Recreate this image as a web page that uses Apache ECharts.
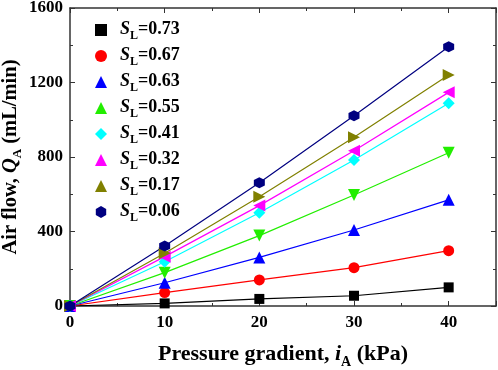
<!DOCTYPE html>
<html>
<head>
<meta charset="utf-8">
<script src="https://cdn.jsdelivr.net/npm/echarts@6/dist/echarts.min.js"></script>
<style>
  html, body { margin: 0; padding: 0; background: #fff; }
  #chart { width: 498px; height: 370px; }
</style>
</head>
<body>
<div id="chart"></div>
<script>
// pressure gradient (kPa)
const pressure = [0, 10, 20, 30, 40];
const saturation = ["0.73", "0.67", "0.63", "0.55", "0.41", "0.32", "0.17", "0.06"];
// air flow (mL/min), one row per saturation
const flowSL073 = [0, 14, 38, 55, 100];
const flowSL067 = [0, 72, 140, 206, 297];
const flowSL063 = [0, 125, 261, 408, 570];
const flowSL055 = [0, 179, 378, 596, 823];
const flowSL041 = [0, 238, 501, 784, 1088];
const flowSL032 = [0, 265, 539, 834, 1147];
const flowSL017 = [0, 283, 587, 906, 1240];
const flowSL006 = [0, 322, 662, 1022, 1392];
const yTicks = [0, 400, 800, 1200, 1600];

const flows = [flowSL073, flowSL067, flowSL063, flowSL055, flowSL041, flowSL032, flowSL017, flowSL006];
const colors = ["#000000", "#ff0000", "#0000ff", "#22ee00", "#00ffff", "#ff00ff", "#808000", "#000080"];
const hexagon = "path://M0,-10L8.66,-5L8.66,5L0,10L-8.66,5L-8.66,-5Z";
const symbols = ["rect", "circle", "triangle", "triangle", "diamond", "triangle", "triangle", hexagon];
const rotates = [0, 0, 0, 180, 0, 90, -90, 0];
const sizes = [10, 11, 12, 12, 12, 12, 12, 11];

const font = "'Liberation Serif', 'Times New Roman', serif";
const chart = echarts.init(document.getElementById("chart"));

const series = [];
saturation.forEach((s, i) => {
  series.push({
    name: "line" + s,
    type: "line",
    data: pressure.map((p, j) => [p, flows[i][j]]),
    showSymbol: false,
    lineStyle: { width: 1.2, color: colors[i] },
    itemStyle: { color: colors[i] },
    z: 2
  });
  series.push({
    name: s,
    type: "scatter",
    data: pressure.map((p, j) => [p, flows[i][j]]),
    symbol: symbols[i],
    symbolRotate: rotates[i],
    symbolSize: sizes[i],
    itemStyle: { color: colors[i], opacity: 1 },
    z: 3
  });
});

const axisCommon = {
  axisLine: { onZero: false, lineStyle: { color: "#333", width: 1.5 } },
  axisTick: { inside: true, length: 5, lineStyle: { color: "#333", width: 1 } },
  minorTick: { show: true, splitNumber: 2, length: 3, lineStyle: { color: "#333", width: 1 } },
  splitLine: { show: false }
};
const labelStyle = { color: "#000", fontFamily: font, fontWeight: "bold", fontSize: 17 };

// rich text for titles with italic symbol and lowered subscript
function titleRich(size, subSize, drop) {
  return {
    n: { fontFamily: font, fontWeight: "bold", fontSize: size, color: "#000", lineHeight: size + 2, verticalAlign: "top" },
    i: { fontFamily: font, fontWeight: "bold", fontStyle: "italic", fontSize: size, color: "#000", lineHeight: size + 2, verticalAlign: "top" },
    sub: { fontFamily: font, fontWeight: "bold", fontSize: subSize, color: "#000", lineHeight: subSize + 1, verticalAlign: "top", padding: [drop, 0, 0, 0] }
  };
}

chart.setOption({
  animation: false,
  backgroundColor: "#fff",
  grid: { left: 70, right: 2, top: 8, bottom: 64, outerBoundsMode: "none", containLabel: false },
  legend: {
    data: saturation,
    orient: "vertical",
    left: 90,
    top: 15,
    itemGap: 4,
    itemWidth: 12,
    itemHeight: 12,
    symbolRotate: "inherit",
    formatter: (name) => "{i|S}{sub|L}{n|=" + name + "}",
    textStyle: { padding: [0, 0, 0, 8], rich: titleRich(18, 12, 10) }
  },
  xAxis: [
    {
      type: "value",
      min: 0,
      max: 45,
      interval: 10,
      ...axisCommon,
      axisLabel: { ...labelStyle, margin: 8, showMaxLabel: false },
      name: "{n|Pressure gradient, }{i|i}{sub|A}{n| (kPa)}",
      nameLocation: "middle",
      nameGap: 37,
      nameMoveOverlap: false,
      nameTextStyle: { rich: titleRich(22, 14, 12) }
    },
    {
      type: "value",
      position: "top",
      min: 0,
      max: 45,
      interval: 10,
      ...axisCommon,
      axisLabel: { show: false }
    }
  ],
  yAxis: [
    {
      type: "value",
      min: yTicks[0],
      max: yTicks[yTicks.length - 1],
      interval: yTicks[1] - yTicks[0],
      ...axisCommon,
      axisLabel: { ...labelStyle, margin: 7, formatter: (v) => String(v) },
      name: "{n|Air flow, }{i|Q}{sub|A}{n| (mL/min)}",
      nameLocation: "middle",
      nameGap: 47,
      nameMoveOverlap: false,
      nameTextStyle: { rich: titleRich(20.5, 13, 11) }
    },
    {
      type: "value",
      position: "right",
      min: yTicks[0],
      max: yTicks[yTicks.length - 1],
      interval: yTicks[1] - yTicks[0],
      ...axisCommon,
      axisLabel: { show: false }
    }
  ],
  series
});
</script>
</body>
</html>
